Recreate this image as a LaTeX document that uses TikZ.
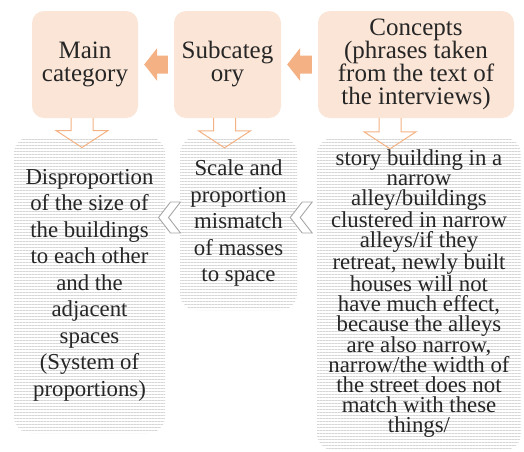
\documentclass[tikz,border=0pt]{standalone}
\usepackage{fontspec}
\setmainfont{Liberation Serif}
\usetikzlibrary{calc,patterns.meta}
\definecolor{peach}{HTML}{FBE5D6}
\definecolor{arrorange}{HTML}{F4B183}
\definecolor{chevgray}{HTML}{A6A6A6}
\begin{document}
\begin{tikzpicture}[x=1pt,y=-1pt]
			\tikzset{topbox/.style={rectangle, rounded corners=12pt, fill=peach, align=center, text=black!85, inner sep=0pt, font=\fontsize{25}{23}\selectfont}};
			\tikzset{lowbox/.style={rectangle, rounded corners=16pt, pattern={Lines[angle=0,distance=3pt,line width=1pt]}, pattern color=black!16, align=center, text=black!85, inner sep=0pt, font=\fontsize{22.8}{26.5}\selectfont}};
			\tikzset{leftblock/.style={fill=arrorange, to path={let \p1=(\tikztostart), \p2=(\tikztotarget) in (\x1-6pt,\y1+9pt) -- (\x2+19pt,\y1+9pt) -- (\x2+19pt,\y1+16.5pt) -- (\x2+6pt,\y1) -- (\x2+19pt,\y1-16.5pt) -- (\x2+19pt,\y1-9pt) -- (\x1-6pt,\y1-9pt) -- cycle}}};
			\tikzset{downblock/.style={draw=arrorange, line width=1pt, to path={let \p1=(\tikztostart), \p2=(\tikztotarget) in (\x1-11pt,\y1) -- (\x1-11pt,\y2+6pt) -- (\x1-26pt,\y2+6pt) -- (\x1,\y2-11pt) -- (\x1+26pt,\y2+6pt) -- (\x1+11pt,\y2+6pt) -- (\x1+11pt,\y1)}}};
			\tikzset{chev/.style={draw=chevgray, fill=white, line width=0.9pt, to path={let \p1=(\tikztostart), \p2=(\tikztotarget) in (\x2-7pt,\y1) -- (\x2+5pt,\y1+15.5pt) -- (\x2+15pt,\y1+15.5pt) -- (\x2+3pt,\y1) -- (\x2+15pt,\y1-15.5pt) -- (\x2+5pt,\y1-15.5pt) -- cycle}}};
			\useasboundingbox (0,0) rectangle (524,451);

			\node[lowbox, minimum width=151pt, minimum height=296pt] (dis) at (89.5,285) {Disproportion\\of the size of\\the buildings\\to each other\\and the\\adjacent\\spaces\\(System of\\proportions)};
			\node[lowbox, minimum width=117pt, minimum height=173pt] (scale) at (238.5,223.5) {Scale and\\proportion\\mismatch\\of masses\\to space};
			\node[lowbox, minimum width=204pt, minimum height=312pt, font=\fontsize{22.8}{20}\selectfont] (story) at (419,294) {story building in a\\narrow\\alley/buildings\\clustered in narrow\\alleys/if they\\retreat, newly built\\houses will not\\have much effect,\\because the alleys\\are also narrow,\\narrow/the width of\\the street does not\\match with these\\things/};

			\node[topbox, minimum width=106pt, minimum height=107pt] (main) at (85,64.5) {Main\\category};
			\node[topbox, minimum width=107pt, minimum height=107pt] (sub) at (227.5,64.5) {Subcateg\\ory};
			\node[topbox, minimum width=196pt, minimum height=107pt] (conc) at (416,64.5) {Concepts\\(phrases taken\\from the text of\\the interviews)};
			\coordinate (lvl) at (0,217.5);

			\path[leftblock] (sub.west) to (main.east);
			\path[leftblock] (conc.west) to (sub.east);

			\draw[downblock] ([xshift=-3pt]main.south) to (dis.north);
			\draw[downblock] ([xshift=-3pt]sub.south) to (scale.north);
			\draw[downblock] ([xshift=-26pt]conc.south) to (story.north);

			\draw[chev] (scale.west |- lvl) to (dis.east |- lvl);
			\draw[chev] (story.west |- lvl) to (scale.east |- lvl);
		\end{tikzpicture}
\end{document}
